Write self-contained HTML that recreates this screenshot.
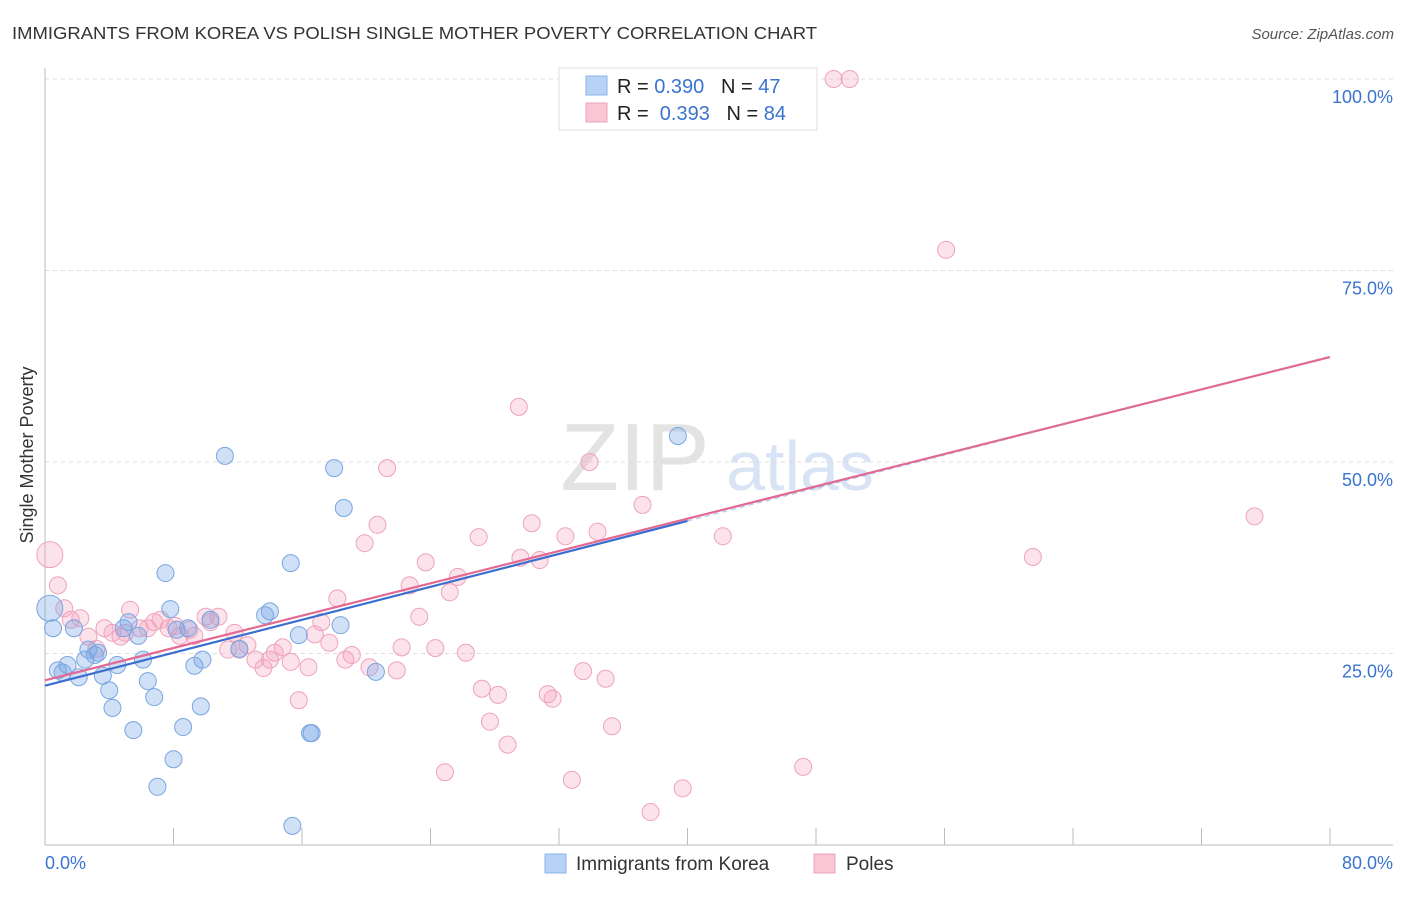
<!DOCTYPE html>
<html><head><meta charset="utf-8"><style>
body{margin:0;background:#fff;font-family:"Liberation Sans",sans-serif;}
svg text{font-family:"Liberation Sans",sans-serif;}
</style></head><body>
<svg id="chart" width="1406" height="892" xmlns="http://www.w3.org/2000/svg">
<text x="12" y="39" font-size="17.5" fill="#333" textLength="805" lengthAdjust="spacingAndGlyphs">IMMIGRANTS FROM KOREA VS POLISH SINGLE MOTHER POVERTY CORRELATION CHART</text>
<text x="1394" y="39" font-size="15" fill="#555" font-style="italic" text-anchor="end">Source: ZipAtlas.com</text>
<text x="635" y="490" font-size="96" fill="#e3e3e3" font-family="Liberation Serif" text-anchor="middle">ZIP</text>
<text x="800" y="490" font-size="70" fill="#d8e4f5" text-anchor="middle">atlas</text>
<g id="grid"></g>
<g id="axes"></g>
<g id="marks"></g>
<g id="lines"></g>
<text x="33" y="455" font-size="18" fill="#333" text-anchor="middle" transform="rotate(-90 33 455)">Single Mother Poverty</text>
<g>
<rect x="559" y="68" width="258" height="62" fill="#fff" stroke="#ddd"/>
<rect x="586" y="76" width="21" height="19" fill="#b7d2f5" stroke="#8ab4ea"/>
<text x="617" y="93" font-size="20" fill="#222">R = <tspan fill="#3a74d0">0.390</tspan>&#160;&#160;&#160;N = <tspan fill="#3a74d0">47</tspan></text>
<rect x="586" y="103" width="21" height="19" fill="#f9c6d6" stroke="#eea3bb"/>
<text x="617" y="120" font-size="20" fill="#222">R = &#160;<tspan fill="#3a74d0">0.393</tspan>&#160;&#160;&#160;N = <tspan fill="#3a74d0">84</tspan></text>
</g>
<g>
<rect x="545" y="854" width="21" height="19" fill="#b7d2f5" stroke="#8ab4ea"/>
<text x="576" y="870" font-size="19" fill="#333">Immigrants from Korea</text>
<rect x="814" y="854" width="21" height="19" fill="#f9c6d6" stroke="#eea3bb"/>
<text x="846" y="870" font-size="19" fill="#333">Poles</text>
</g>
</svg>
<script>
const xTicks=[0,8,16,24,32,40,48,56,64,72,80];
const yTicks=[25,50,75,100];
const koreaX=[0.3,0.5,0.8,1.1,1.4,1.8,2.1,2.5,2.7,3.1,3.3,3.6,4.0,4.2,4.5,4.9,5.2,5.5,5.8,6.1,6.4,6.8,7.0,7.5,7.8,8.0,8.2,8.6,8.9,9.3,9.7,9.8,10.3,11.2,12.1,13.7,14.0,15.3,15.4,15.8,16.5,16.6,18.0,18.4,18.6,20.6,39.4];
const koreaY=[30.9,28.3,22.8,22.5,23.5,28.3,21.9,24.2,25.5,24.8,25.1,22.1,20.2,17.9,23.5,28.3,29.1,15.0,27.3,24.2,21.4,19.3,7.6,35.5,30.8,11.2,28.1,15.4,28.3,23.4,18.1,24.2,29.4,50.8,25.6,30.0,30.5,36.8,2.5,27.4,14.6,14.6,49.2,28.7,44.0,22.6,53.4];
const polesX=[0.3,0.8,1.2,1.6,2.2,2.7,3.2,3.7,4.2,4.7,5.0,5.3,5.9,6.4,6.8,7.2,7.7,8.1,8.4,9.0,9.3,10.0,10.3,10.8,11.4,11.8,12.1,12.6,13.1,13.6,14.0,14.3,14.8,15.3,15.8,16.4,16.8,17.2,17.7,18.2,18.7,19.1,19.9,20.2,20.7,21.3,21.9,22.2,22.7,23.3,23.7,24.3,24.9,25.2,25.7,26.2,27.0,27.2,27.7,28.2,28.8,29.5,29.6,30.3,30.8,31.3,31.6,32.4,32.8,33.5,33.9,34.4,34.9,35.3,37.2,37.7,39.7,42.2,47.2,49.1,50.1,56.1,61.5,75.3,43.1,40.0,35.8];
const polesY=[37.9,33.9,30.9,29.4,29.6,27.2,25.6,28.3,27.7,27.2,27.7,30.7,28.3,28.3,29.1,29.4,28.3,28.6,27.3,28.1,27.3,29.8,29.1,29.8,25.5,27.7,25.5,26.1,24.2,23.1,24.2,25.1,25.8,23.9,18.9,23.2,27.5,29.1,26.4,32.2,24.2,24.8,39.4,23.2,41.8,49.2,22.8,25.8,33.9,29.8,36.9,25.7,9.5,33.0,35.0,25.1,40.2,20.4,16.1,19.6,13.1,57.2,37.5,42.0,37.2,19.7,19.1,40.3,8.5,22.7,50.0,40.9,21.7,15.5,44.4,4.3,7.4,40.3,10.2,100,100,77.7,37.6,42.9,99.9,99.9,100];
const koreaTrend=[20.8,42.3];
const polesTrend=[21.5,63.7];
const X=v=>45+v*1285/80;
const Y=v=>845-v*7.66;
const NS='http://www.w3.org/2000/svg';
function mk(tag,attrs,parent){const e=document.createElementNS(NS,tag);for(const k in attrs)e.setAttribute(k,attrs[k]);document.getElementById(parent).appendChild(e);return e;}
yTicks.forEach(t=>{
 const l=mk('line',{x1:45,x2:1393,y1:Y(t),y2:Y(t),stroke:'#ddd','stroke-dasharray':'4 4'},'grid');
 
 
 const tx=mk('text',{x:1393,y:Y(t)+24,'font-size':18,fill:'#3a74d0','text-anchor':'end'},'grid');
 tx.textContent=t.toFixed(1)+'%';
 
 
});
const ax=mk('line',{x1:45,x2:1393,y1:845,y2:845,stroke:'#bbb'},'axes');


const ay=mk('line',{x1:45,x2:45,y1:68,y2:845,stroke:'#bbb'},'axes');


xTicks.forEach(t=>{
 const l=mk('line',{x1:X(t),x2:X(t),y1:828,y2:845,stroke:'#bbb'},'axes');
 
 
});
[[0,'start',45],[80,'end',1393]].forEach(([t,a,x])=>{
 const tx=mk('text',{x:x,y:869,'font-size':18,fill:'#3a74d0','text-anchor':a},'axes');
 tx.textContent=t.toFixed(1)+'%';
 
 
});
function dots(xs,ys,fill,stroke,name){
 xs.forEach((v,i)=>{
  const r=(v<0.5)?13:8.5;
  const c=mk('circle',{cx:X(v),cy:Y(ys[i]),r:r,fill:fill,stroke:stroke,'stroke-width':1},'marks');
  
  
 });
}
dots(polesX,polesY,'rgba(244,160,188,0.3)','#eea3bb','poles-point');
dots(koreaX,koreaY,'rgba(120,165,230,0.35)','#7aa6e0','korea-point');
const kSlope=(koreaTrend[1]-koreaTrend[0])/40;
const kl=mk('line',{x1:X(0),y1:Y(koreaTrend[0]),x2:X(40),y2:Y(koreaTrend[1]),stroke:'#3a6fd0','stroke-width':2.2},'lines');


const kd=mk('line',{x1:X(40),y1:Y(koreaTrend[1]),x2:X(80),y2:Y(koreaTrend[0]+kSlope*80),stroke:'#7aa6e0','stroke-width':1.2,'stroke-dasharray':'5 4','stroke-opacity':0.6},'lines');


const pl=mk('line',{x1:X(0),y1:Y(polesTrend[0]),x2:X(80),y2:Y(polesTrend[1]),stroke:'#e26a92','stroke-width':2.2},'lines');


</script>
</body></html>
